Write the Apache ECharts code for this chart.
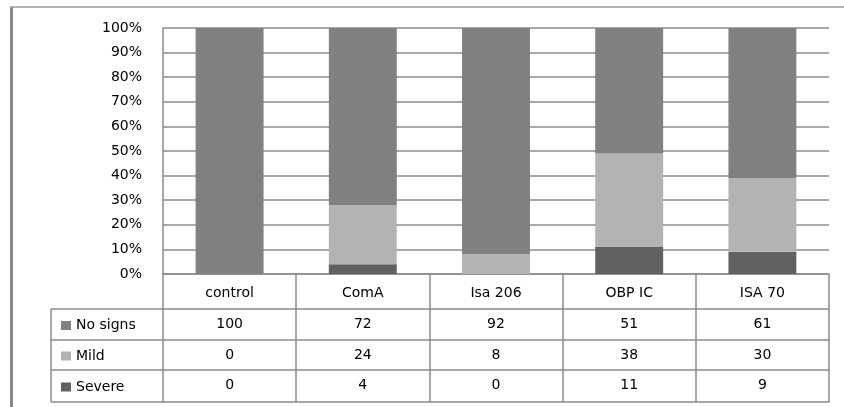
<!DOCTYPE html>
<html>
<head>
<meta charset="utf-8">
<title>Symptom severity by treatment</title>
<script src="https://cdn.jsdelivr.net/npm/echarts@6/dist/echarts.min.js"></script>
<style>
  html, body { margin: 0; padding: 0; background: #fff; }
  #chart { width: 844px; height: 407px; }
</style>
</head>
<body>
<div id="chart"></div>
<script>
// Treatment groups shown along the x axis and in the data table header
const categories = ['control', 'ComA', 'Isa 206', 'OBP IC', 'ISA 70'];

// Percentage of animals in each severity class per treatment
const noSigns = [100, 72, 92, 51, 61];
const mild    = [0, 24, 8, 38, 30];
const severe  = [0, 4, 0, 11, 9];

// Row names in the data table (top to bottom)
const rowNames = ['No signs', 'Mild', 'Severe'];
const rowValues = [noSigns, mild, severe];

// Y axis tick values (percent)
const yTicks = [0, 10, 20, 30, 40, 50, 60, 70, 80, 90, 100];

const colors = { 'No signs': '#808080', 'Mild': '#b3b3b3', 'Severe': '#616161' };

// Layout
const W = 844, H = 407;
const gridLeft = 163, gridRight = 829, gridTop = 28, gridBottom = 274;
const headerH = 35;
const rowOffsets = [35, 66, 96, 128];  // offsets of table rule lines below the plot
const legendLeft = 51;
const lineColor = '#8c8c8c';
const font = 'DejaVu Sans';
const fontSize = 14;

const chart = echarts.init(document.getElementById('chart'), null, { renderer: 'canvas' });

// Main category axis: header row of the table with vertical cell separators
const xAxes = [{
  type: 'category',
  data: categories,
  gridIndex: 0,
  position: 'bottom',
  boundaryGap: true,
  axisLine: { show: true, lineStyle: { color: lineColor, width: 1.5 } },
  axisTick: { show: true, inside: false, length: headerH, lineStyle: { color: lineColor, width: 1.5 } },
  axisLabel: { color: '#000', fontFamily: font, fontSize: fontSize, margin: 12, interval: 0 },
  splitLine: { show: false }
}];

// One axis per table row, carrying the values as labels
rowValues.forEach((vals, r) => {
  xAxes.push({
    type: 'category',
    data: categories,
    gridIndex: 0,
    position: 'bottom',
    offset: rowOffsets[r],
    boundaryGap: true,
    axisLine: { show: true, lineStyle: { color: lineColor, width: 1.5 } },
    axisTick: { show: true, inside: false, length: rowOffsets[r + 1] - rowOffsets[r], lineStyle: { color: lineColor, width: 1.5 } },
    axisLabel: {
      color: '#000', fontFamily: font, fontSize: fontSize, interval: 0,
      margin: 8,
      formatter: (v, i) => String(vals[i])
    },
    splitLine: { show: false }
  });
});

// Bottom rule of the table
xAxes.push({
  type: 'category',
  data: categories,
  gridIndex: 0,
  position: 'bottom',
  offset: rowOffsets[3],
  axisLine: { show: true, lineStyle: { color: lineColor, width: 1.5 } },
  axisTick: { show: false },
  axisLabel: { show: false },
  splitLine: { show: false }
});

// Legend keys in the left column of the table, one per row
const legends = rowNames.map((name, r) => {
  const top = gridBottom + rowOffsets[r];
  const h = rowOffsets[r + 1] - rowOffsets[r];
  return {
    data: [name],
    orient: 'vertical',
    left: legendLeft + 10,
    top: top + h / 2 - 6,
    padding: 0,
    itemWidth: 10,
    itemHeight: 9,
    itemGap: 0,
    icon: 'rect',
    selectedMode: false,
    textStyle: { color: '#000', fontFamily: font, fontSize: fontSize }
  };
});

// Table lines of the legend column and the outer frame
const graphics = [];
rowOffsets.forEach(off => {
  graphics.push({
    type: 'line', silent: true,
    shape: { x1: legendLeft, y1: gridBottom + off, x2: gridLeft, y2: gridBottom + off },
    style: { stroke: lineColor, lineWidth: 1.5 }
  });
});
graphics.push({
  type: 'line', silent: true,
  shape: { x1: legendLeft, y1: gridBottom + rowOffsets[0], x2: legendLeft, y2: gridBottom + rowOffsets[3] },
  style: { stroke: lineColor, lineWidth: 1.5 }
});
graphics.push({
  type: 'line', silent: true,
  shape: { x1: 11.5, y1: 7, x2: 11.5, y2: H },
  style: { stroke: '#8a8a8a', lineWidth: 3 }
});
graphics.push({
  type: 'line', silent: true,
  shape: { x1: 10, y1: 7, x2: W, y2: 7 },
  style: { stroke: '#9a9a9a', lineWidth: 1.5 }
});

const mkSeries = (name, data) => ({
  name: name,
  type: 'bar',
  stack: 'total',
  xAxisIndex: 0,
  yAxisIndex: 0,
  barWidth: '51%',
  data: data,
  itemStyle: { color: colors[name] },
  emphasis: { disabled: true }
});

chart.setOption({
  animation: false,
  backgroundColor: '#fff',
  grid: {
    left: gridLeft,
    right: W - gridRight,
    top: gridTop,
    bottom: H - gridBottom,
    containLabel: false
  },
  legend: legends,
  xAxis: xAxes,
  yAxis: {
    type: 'value',
    min: yTicks[0],
    max: yTicks[yTicks.length - 1],
    interval: yTicks[1] - yTicks[0],
    axisLine: { show: true, lineStyle: { color: lineColor, width: 1.5 } },
    axisTick: { show: false },
    axisLabel: { color: '#000', fontFamily: font, fontSize: fontSize, margin: 21, formatter: '{value}%' },
    splitLine: { show: true, lineStyle: { color: lineColor, width: 1.5 } }
  },
  series: [
    mkSeries('Severe', severe),
    mkSeries('Mild', mild),
    mkSeries('No signs', noSigns)
  ],
  graphic: graphics
});
</script>
</body>
</html>
